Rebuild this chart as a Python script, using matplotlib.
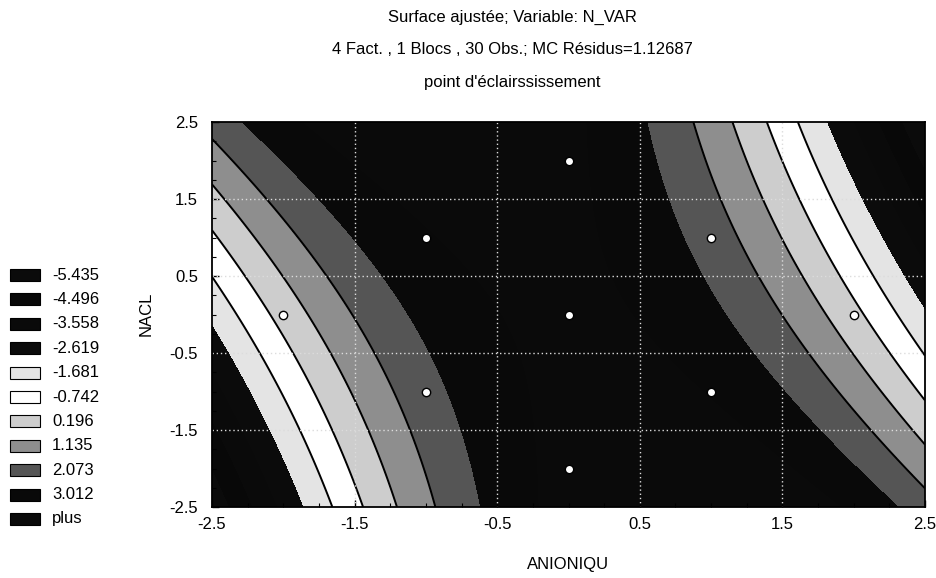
import numpy as np
import matplotlib
matplotlib.use("Agg")
import matplotlib.pyplot as plt
from matplotlib.patches import Rectangle
from matplotlib.ticker import MultipleLocator

plt.rcParams['font.family'] = ['Liberation Sans', 'DejaVu Sans']

# Fitted second-order response surface: N_VAR = f(ANIONIQU, NACL)
b0 = 3.20
b_x = -0.02
b_y = -0.03
b_xx = -0.91
b_yy = 0.015
b_xy = -0.625

# Contour classes (upper bound of each class) and their fill shades
level_bounds = [-5.435, -4.496, -3.558, -2.619, -1.681, -0.742,
                0.196, 1.135, 2.073, 3.012]
legend_labels = ['-5.435', '-4.496', '-3.558', '-2.619', '-1.681', '-0.742',
                 '0.196', '1.135', '2.073', '3.012', 'plus']
band_colors = ['#0b0b0b', '#080808', '#0a0a0a', '#0b0b0b', '#e4e4e4',
               '#ffffff', '#cdcdcd', '#8e8e8e', '#555555', '#090909', '#0a0a0a']
line_levels = [-1.681, -0.742, 0.196, 1.135]

# Design points (coded units)
design_x = [0, -1, 1, -2, 0, 2, -1, 1, 0]
design_y = [2, 1, 1, 0, 0, 0, -1, -1, -2]

tick_values = [-2.5, -1.5, -0.5, 0.5, 1.5, 2.5]
tick_labels = ['-2.5', '-1.5', '-0.5', '0.5', '1.5', '2.5']

W, H = 936, 578
fig = plt.figure(figsize=(W / 100, H / 100), dpi=100)
fig.patch.set_facecolor('white')

ax = fig.add_axes([212 / W, 1 - 507 / H, (925 - 212) / W, (507 - 122) / H])

gx = np.linspace(-2.5, 2.5, 400)
gy = np.linspace(-2.5, 2.5, 400)
X, Y = np.meshgrid(gx, gy)
Z = b0 + b_x * X + b_y * Y + b_xx * X ** 2 + b_yy * Y ** 2 + b_xy * X * Y

fill_levels = [min(Z.min(), level_bounds[0]) - 1] + level_bounds + [max(Z.max(), level_bounds[-1]) + 1]
ax.contourf(X, Y, Z, levels=fill_levels, colors=band_colors, zorder=1)
ax.contour(X, Y, Z, levels=line_levels, colors='black', linewidths=1.4,
           linestyles='solid', negative_linestyles='solid', zorder=2)

ax.scatter(design_x, design_y, s=36, facecolor='white', edgecolor='black',
           linewidths=1.0, zorder=5)

ax.set_xlim(-2.5, 2.5)
ax.set_ylim(-2.5, 2.5)
ax.set_xticks(tick_values)
ax.set_xticklabels(tick_labels)
ax.set_yticks(tick_values)
ax.set_yticklabels(tick_labels)
ax.xaxis.set_minor_locator(MultipleLocator(0.25))
ax.yaxis.set_minor_locator(MultipleLocator(0.25))
ax.tick_params(which='both', direction='in', color='black', top=False, right=False)
ax.tick_params(which='major', length=5, width=1, labelsize=12)
ax.tick_params(which='minor', length=3, width=0.8)
ax.tick_params(axis='x', pad=7)
ax.tick_params(axis='y', pad=10)

for v in tick_values[1:-1]:
    ax.axvline(v, color='#dcdcdc', linestyle=(0, (1, 2)), linewidth=1.0, zorder=3)
    ax.axhline(v, color='#dcdcdc', linestyle=(0, (1, 2)), linewidth=1.0, zorder=3)

for s in ax.spines.values():
    s.set_linewidth(1.3)
    s.set_color('black')
    s.set_zorder(6)

fig.text(568 / W, 1 - 565 / H, 'ANIONIQU', ha='center', va='center', fontsize=12)
fig.text(146 / W, 1 - 314 / H, 'NACL', ha='center', va='center', rotation=90, fontsize=12)

title_x = 512 / W
fig.text(title_x, 1 - 17 / H, 'Surface ajustée; Variable: N_VAR', ha='center', va='center', fontsize=12)
fig.text(title_x, 1 - 49 / H, '4 Fact. , 1 Blocs , 30 Obs.; MC Résidus=1.12687', ha='center', va='center', fontsize=12)
fig.text(title_x, 1 - 82 / H, "point d'éclairssissement", ha='center', va='center', fontsize=12)

# Class legend on the left
row0, row_step = 275, 24.4
for i, (lab, col) in enumerate(zip(legend_labels, band_colors)):
    yc = row0 + i * row_step
    fig.patches.append(Rectangle((10 / W, 1 - (yc + 6) / H), 30 / W, 12 / H,
                                 transform=fig.transFigure, facecolor=col,
                                 edgecolor='black', linewidth=0.8))
    fig.text(52 / W, 1 - yc / H, lab, ha='left', va='center', fontsize=12)

fig.savefig('out.png', dpi=100)
